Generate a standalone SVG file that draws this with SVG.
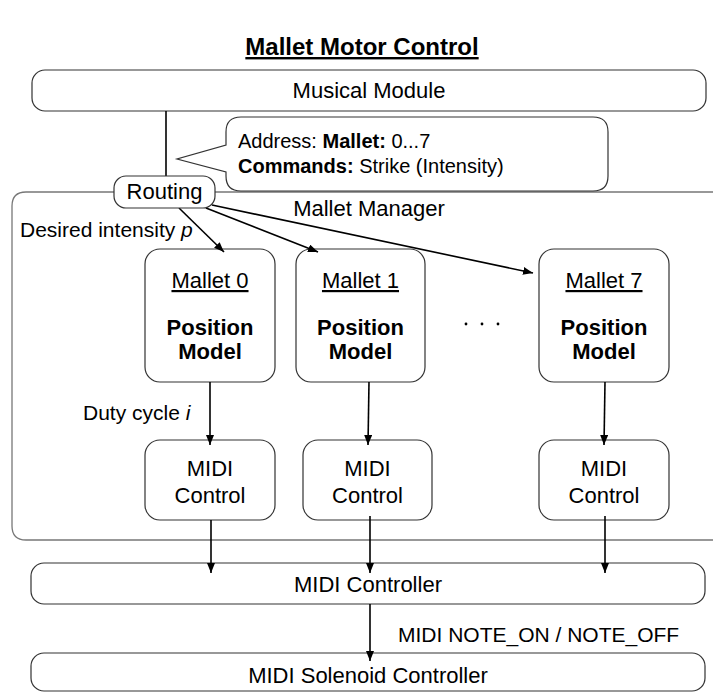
<svg xmlns="http://www.w3.org/2000/svg" width="713" height="693" viewBox="0 0 713 693">
<defs>
<marker id="ah" markerUnits="userSpaceOnUse" markerWidth="12" markerHeight="10" refX="10" refY="4" orient="auto">
<path d="M0,0 L10,4 L0,8 Z" fill="#000"/>
</marker>
<style>
text{font-family:"Liberation Sans",Arial,Helvetica,sans-serif;fill:#000}
.box{fill:#fff;stroke:#333;stroke-width:1.2}
.lbl{font-size:22px;text-anchor:middle}
.b{font-weight:bold}
.c{font-size:20px}
.con{stroke:#000;stroke-width:1.6;fill:none}
.arr{stroke:#000;stroke-width:1.6;fill:none;marker-end:url(#ah)}
</style>
</defs>
<rect width="713" height="693" fill="#fff"/>

<text id="title" x="362" y="55" class="b" font-size="24" text-anchor="middle" text-decoration="underline">Mallet Motor Control</text>

<g id="mallet-manager">
<path d="M713,192 H26 Q12,192 12,206 V526 Q12,540 26,540 H713" fill="none" stroke="#777" stroke-width="1.3"/>
<text x="369" y="216" class="lbl">Mallet Manager</text>
</g>

<g id="musical-module">
<rect class="box" x="32" y="70" width="674" height="41" rx="13"/>
<text x="369" y="98" class="lbl">Musical Module</text>
</g>

<g id="callout">
<path class="box" d="M241,117 H593 Q608,117 608,132 V176 Q608,191 593,191 H241 Q226,191 226,176 V172 L177,159 L226,145 V132 Q226,117 241,117 Z"/>
<text x="238" y="148" class="c">Address: <tspan class="b">Mallet:</tspan> 0...7</text>
<text x="238" y="173" class="c"><tspan class="b">Commands:</tspan> Strike (Intensity)</text>
</g>

<g id="mallet-0">
<rect class="box" x="145" y="249" width="130" height="133" rx="15"/>
<text x="210" y="288" class="lbl" text-decoration="underline">Mallet 0</text>
<text x="210" y="335" class="lbl b" font-size="20">Position</text>
<text x="210" y="359" class="lbl b" font-size="20">Model</text>
</g>
<g id="mallet-1">
<rect class="box" x="296" y="249" width="129" height="133" rx="15"/>
<text x="360.5" y="288" class="lbl" text-decoration="underline">Mallet 1</text>
<text x="360.5" y="335" class="lbl b" font-size="20">Position</text>
<text x="360.5" y="359" class="lbl b" font-size="20">Model</text>
</g>
<g id="ellipsis">
<circle cx="466" cy="324" r="1.4" fill="#000"/>
<circle cx="482" cy="324" r="1.4" fill="#000"/>
<circle cx="498" cy="324" r="1.4" fill="#000"/>
</g>
<g id="mallet-7">
<rect class="box" x="539" y="249" width="130" height="133" rx="15"/>
<text x="604" y="288" class="lbl" text-decoration="underline">Mallet 7</text>
<text x="604" y="335" class="lbl b" font-size="20">Position</text>
<text x="604" y="359" class="lbl b" font-size="20">Model</text>
</g>

<g id="midi-control-0">
<rect class="box" x="145" y="440" width="130" height="80" rx="15"/>
<text x="210" y="476" class="lbl">MIDI</text>
<text x="210" y="503" class="lbl">Control</text>
</g>
<g id="midi-control-1">
<rect class="box" x="303" y="440" width="129" height="80" rx="15"/>
<text x="367.5" y="476" class="lbl">MIDI</text>
<text x="367.5" y="503" class="lbl">Control</text>
</g>
<g id="midi-control-7">
<rect class="box" x="539" y="440" width="130" height="80" rx="15"/>
<text x="604" y="476" class="lbl">MIDI</text>
<text x="604" y="503" class="lbl">Control</text>
</g>

<g id="midi-controller">
<rect class="box" x="31" y="563" width="674" height="41" rx="13"/>
<text x="368" y="592" class="lbl">MIDI Controller</text>
</g>

<g id="midi-solenoid-controller">
<rect class="box" x="31" y="653" width="674" height="38" rx="13"/>
<text x="368" y="683" class="lbl" font-size="23">MIDI Solenoid Controller</text>
</g>

<g id="connectors">
<line class="con" x1="166" y1="111" x2="166" y2="176"/>
<line class="arr" x1="179" y1="208" x2="224" y2="252"/>
<line class="arr" x1="206" y1="208" x2="318" y2="252"/>
<line class="arr" x1="212" y1="205" x2="533" y2="273"/>
<line class="arr" x1="210" y1="382" x2="210" y2="445"/>
<line class="arr" x1="369" y1="382" x2="368" y2="445"/>
<line class="arr" x1="605" y1="382" x2="604" y2="445"/>
<line class="arr" x1="211" y1="520" x2="211" y2="573"/>
<line class="arr" x1="370" y1="516" x2="370" y2="573"/>
<line class="arr" x1="605" y1="516" x2="605" y2="573"/>
<line class="arr" x1="370" y1="604" x2="370" y2="661"/>
<text x="20" y="237" font-size="21">Desired intensity <tspan font-style="italic">p</tspan></text>
<text x="83" y="420" font-size="21">Duty cycle <tspan font-style="italic">i</tspan></text>
<text x="398" y="642" font-size="21">MIDI NOTE_ON / NOTE_OFF</text>
</g>

<g id="routing">
<rect class="box" x="114" y="176" width="101" height="32" rx="12"/>
<text x="164.5" y="199" class="lbl" font-size="21">Routing</text>
</g>
</svg>
